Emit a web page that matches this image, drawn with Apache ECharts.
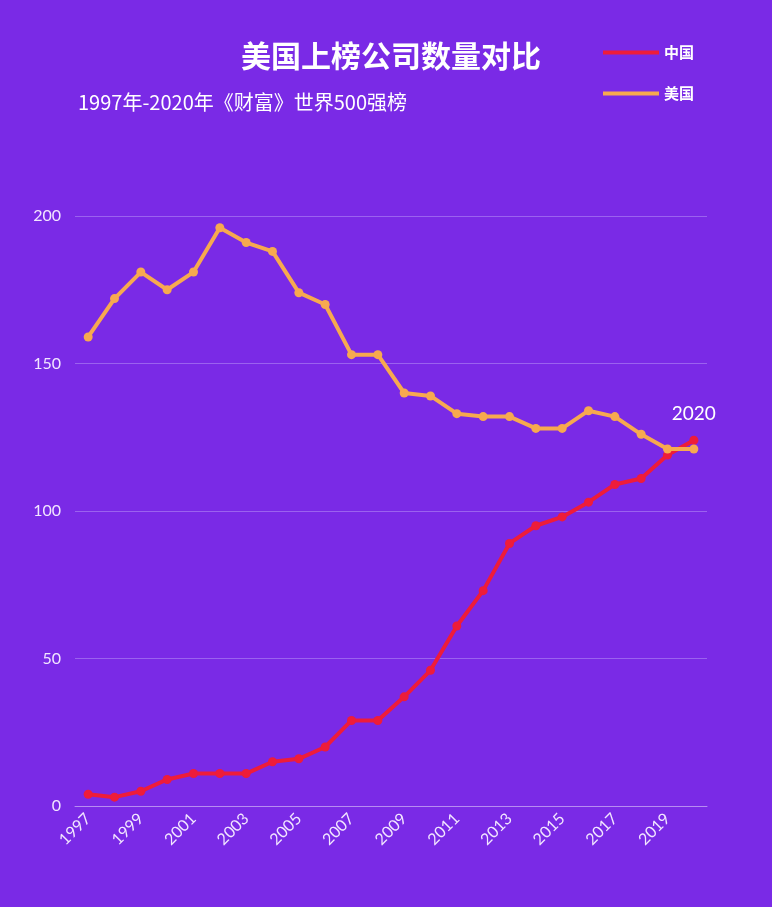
<!DOCTYPE html>
<html>
<head>
<meta charset="utf-8">
<script src="https://cdn.jsdelivr.net/npm/echarts@6/dist/echarts.min.js"></script>
<style>
  html, body { margin: 0; padding: 0; background: #7a2ae6; }
  #chart { width: 772px; height: 907px; }
</style>
</head>
<body>
<div id="chart"></div>
<script>
let years = [];
for (let y = 1997; y <= 2020; y++) years.push(String(y));

let chinaCounts = [4, 3, 5, 9, 11, 11, 11, 15, 16, 20, 29, 29, 37, 46, 61, 73, 89, 95, 98, 103, 109, 111, 119, 124];
let usaCounts = [159, 172, 181, 175, 181, 196, 191, 188, 174, 170, 153, 153, 140, 139, 133, 132, 132, 128, 128, 134, 132, 126, 121, 121];

let chinaData = chinaCounts.map((v, i) => {
    if (i === chinaCounts.length - 1) {
        return {
            value: v,
            label: {
                show: true, position: 'top', distance: 12, formatter: years[i],
                color: '#fff', fontSize: 19, fontFamily: 'Lato, sans-serif'
            }
        };
    }
    return v;
});

let option = {
    backgroundColor: '#7a2ae6',
    title: [{
        text: '美国上榜公司数量对比',
        left: 386, top: 36, textAlign: 'center',
        textStyle: { color: '#fff', fontSize: 30, fontWeight: 'bold', fontFamily: 'Noto Sans CJK SC' }
    }, {
        text: '1997年-2020年《财富》世界500强榜',
        left: 73, top: 87,
        textStyle: { color: '#fff', fontSize: 20, fontWeight: 'normal', fontFamily: 'Noto Sans CJK SC' }
    }],
    legend: {
        orient: 'vertical',
        left: 598, top: 40,
        itemWidth: 56, itemHeight: 4, itemGap: 26,
        icon: 'rect',
        textStyle: { color: '#fff', fontSize: 15, fontWeight: 'bold', fontFamily: 'Noto Sans CJK SC' },
        data: ['中国', '美国']
    },
    grid: { left: 75, right: 65, top: 216, bottom: 101 },
    xAxis: {
        type: 'category',
        data: years,
        boundaryGap: true,
        axisLine: { lineStyle: { color: '#b78cf2' } },
        axisTick: { show: false },
        axisLabel: { color: '#f2e6ff', fontSize: 16, rotate: 45, interval: 1, margin: 10, fontFamily: 'Lato, sans-serif' }
    },
    yAxis: {
        type: 'value',
        min: 0, max: 200, interval: 50,
        axisLine: { show: false },
        axisTick: { show: false },
        splitLine: { lineStyle: { color: '#9b62ef' } },
        axisLabel: { color: '#f2e6ff', fontSize: 16, margin: 14, fontFamily: 'Lato, sans-serif' }
    },
    series: [{
        name: '中国',
        type: 'line',
        data: chinaData,
        color: '#ee1c3a',
        symbol: 'circle', symbolSize: 9,
        lineStyle: { width: 4 }
    }, {
        name: '美国',
        type: 'line',
        data: usaCounts,
        color: '#f7a94f',
        symbol: 'circle', symbolSize: 9,
        lineStyle: { width: 4 }
    }]
};

let myChart = echarts.init(document.getElementById('chart'));
myChart.setOption(option);
</script>
</body>
</html>
